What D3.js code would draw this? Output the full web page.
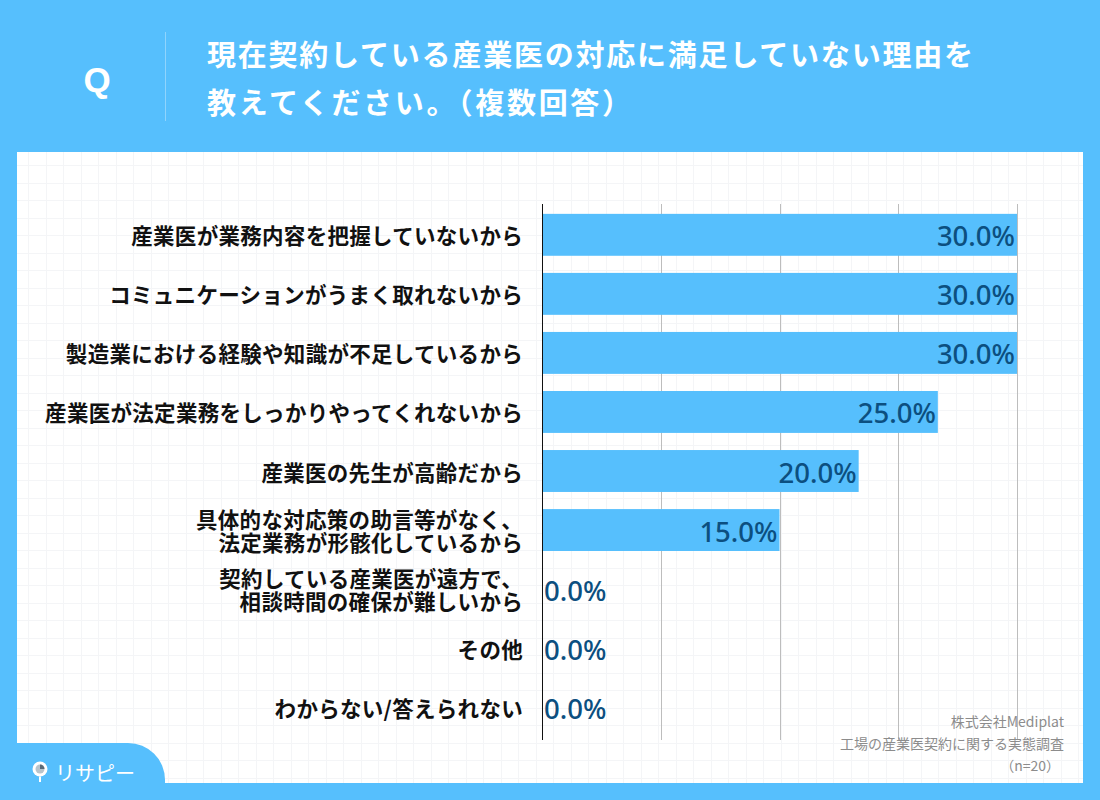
<!DOCTYPE html>
<html>
<head>
<meta charset="utf-8">
<script src="https://cdn.jsdelivr.net/npm/d3@7"></script>
<style>
  html, body { margin: 0; padding: 0; background: #56bffd; }
  svg { display: block; }
  text { font-family: "Noto Sans CJK JP", "Noto Sans", sans-serif; }
</style>
</head>
<body>
<div id="chart"></div>
<script>
// ---- data ----
const categories = [
	["産業医が業務内容を把握していないから"],
	["コミュニケーションがうまく取れないから"],
	["製造業における経験や知識が不足しているから"],
	["産業医が法定業務をしっかりやってくれないから"],
	["産業医の先生が高齢だから"],
	["具体的な対応策の助言等がなく、", "法定業務が形骸化しているから"],
	["契約している産業医が遠方で、", "相談時間の確保が難しいから"],
	["その他"],
	["わからない/答えられない"]
];
const values = [0.30, 0.30, 0.30, 0.25, 0.20, 0.15, 0.0, 0.0, 0.0];
const gridTicks = [0.075, 0.15, 0.225, 0.30];
const titleLines = ["現在契約している産業医の対応に満足していない理由を", "教えてください。（複数回答）"];
const titleWidths = [766, 424];
const sourceLines = ["株式会社Mediplat", "工場の産業医契約に関する実態調査", "（n=20）"];

const W = 1100, H = 800;
const blue = "#56bffd";

const svg = d3.select("#chart")
			.append("svg")
			.attr("width", W)
			.attr("height", H);

svg.append("rect").attr("width", W).attr("height", H).attr("fill", blue);

// header
svg.append("text")
	.attr("x", 97).attr("y", 79)
	.attr("text-anchor", "middle")
	.attr("dominant-baseline", "central")
	.attr("fill", "#fff")
	.style("font-family", "'Liberation Sans', Arial, sans-serif")
	.style("font-weight", 700)
	.style("font-size", "35px")
	.text("Q");

svg.append("line")
	.attr("x1", 165.5).attr("x2", 165.5)
	.attr("y1", 32).attr("y2", 121)
	.attr("stroke", "#8fd4fd").attr("stroke-width", 1);

svg.selectAll("text.title")
	.data(titleLines)
	.enter()
	.append("text")
	.attr("class", "title")
	.attr("x", 207)
	.attr("y", (d, i) => 53 + i * 48)
	.attr("dominant-baseline", "central")
	.attr("textLength", (d, i) => titleWidths[i])
	.attr("lengthAdjust", "spacing")
	.attr("fill", "#fff")
	.style("font-weight", 700)
	.style("font-size", "29px")
	.text(d => d);

// white panel with faint grid
const panel = { x: 17, y: 152, w: 1066, h: 631 };
svg.append("rect")
	.attr("x", panel.x).attr("y", panel.y)
	.attr("width", panel.w).attr("height", panel.h)
	.attr("fill", "#fff");

const bg = svg.append("g").attr("stroke", "#f4f5f7").attr("stroke-width", 1);
bg.selectAll("line.vx")
	.data(d3.range(panel.x + 11, panel.x + panel.w, 17.5))
	.enter().append("line")
	.attr("x1", d => Math.round(d) + 0.5).attr("x2", d => Math.round(d) + 0.5)
	.attr("y1", panel.y).attr("y2", panel.y + panel.h);
bg.selectAll("line.hy")
	.data(d3.range(panel.y + 13, panel.y + panel.h, 17.5))
	.enter().append("line")
	.attr("y1", d => Math.round(d) + 0.5).attr("y2", d => Math.round(d) + 0.5)
	.attr("x1", panel.x).attr("x2", panel.x + panel.w);

// scales
const x = d3.scaleLinear().domain([0, 0.30]).range([542, 1017]);
const y = d3.scaleBand()
			.domain(d3.range(categories.length))
			.range([205, 737])
			.paddingInner(0.29)
			.paddingOuter(0.15);

// gridlines
svg.selectAll("line.grid")
	.data(gridTicks)
	.enter()
	.append("line")
	.attr("class", "grid")
	.attr("x1", d => Math.round(x(d)) + 0.5)
	.attr("x2", d => Math.round(x(d)) + 0.5)
	.attr("y1", 204).attr("y2", 740)
	.attr("stroke", "#bdbdbd").attr("stroke-width", 1);

// bars
svg.selectAll("rect.bar")
	.data(values)
	.enter()
	.append("rect")
	.attr("class", "bar")
	.attr("x", x(0))
	.attr("y", (d, i) => y(i))
	.attr("width", d => x(d) - x(0))
	.attr("height", y.bandwidth())
	.attr("fill", blue);

// axis line
svg.append("line")
	.attr("x1", x(0) + 0.5).attr("x2", x(0) + 0.5)
	.attr("y1", 204).attr("y2", 740)
	.attr("stroke", "#111").attr("stroke-width", 1);

// value labels
svg.selectAll("text.val")
	.data(values)
	.enter()
	.append("text")
	.attr("class", "val")
	.attr("x", d => d > 0 ? x(d) - 2 : x(0) + 2)
	.attr("y", (d, i) => y(i) + y.bandwidth() / 2 + 1)
	.attr("text-anchor", d => d > 0 ? "end" : "start")
	.attr("dominant-baseline", "central")
	.attr("fill", "#0c4f80")
	.style("font-family", "'Noto Sans', sans-serif")
	.style("font-weight", 500)
	.style("font-size", "27.5px")
	.text(d => d3.format(".1%")(d));

// category labels
const labels = svg.selectAll("text.cat")
	.data(categories)
	.enter()
	.append("text")
	.attr("class", "cat")
	.attr("text-anchor", "end")
	.attr("fill", "#111")
	.style("font-weight", 700)
	.style("font-size", "21.5px")
	.style("letter-spacing", "0.3px");

labels.each(function(lines, i) {
	const cy = y(i) + y.bandwidth() / 2;
	const lh = 23;
	d3.select(this).selectAll("tspan")
		.data(lines)
		.enter()
		.append("tspan")
		.attr("x", 523)
		.attr("y", (d, j) => cy + (j - (lines.length - 1) / 2) * lh)
		.attr("dominant-baseline", "central")
		.text(d => d);
});

// source
svg.selectAll("text.src")
	.data(sourceLines)
	.enter()
	.append("text")
	.attr("class", "src")
	.attr("x", (d, i) => i === 2 ? 1060 : 1064)
	.attr("y", (d, i) => 721 + i * 22)
	.attr("text-anchor", "end")
	.attr("dominant-baseline", "central")
	.attr("fill", "#8c8c8c")
	.style("font-size", "14px")
	.text(d => d);

// bottom-left tab with logo
svg.append("path")
	.attr("d", "M0,743 L128,743 A37,37 0 0 1 165,780 L165,800 L0,800 Z")
	.attr("fill", blue);

const logo = svg.append("g").attr("transform", "translate(40,769)");
logo.append("circle").attr("r", 7.5).attr("fill", "#fff");
logo.append("circle").attr("r", 4.5).attr("fill", "#b8c4cc");
logo.append("path").attr("d", "M0,-4.5 A4.5,4.5 0 0 1 4.5,0 L0,0 Z").attr("fill", "#5a6a78");
logo.append("line").attr("x1", 0).attr("x2", 0).attr("y1", 7.5).attr("y2", 13)
	.attr("stroke", "#fff").attr("stroke-width", 2);

svg.append("text")
	.attr("x", 55).attr("y", 772)
	.attr("dominant-baseline", "central")
	.attr("fill", "#fff")
	.style("font-weight", 400)
	.style("font-size", "20px")
	.text("リサピー");
</script>
</body>
</html>
